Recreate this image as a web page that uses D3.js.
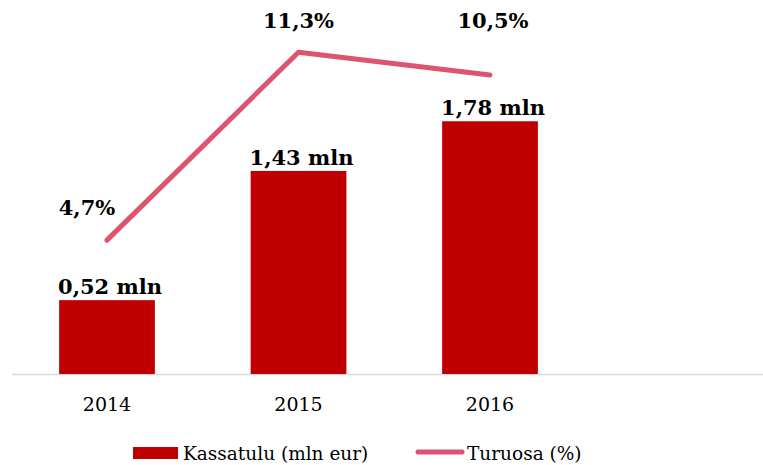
<!DOCTYPE html>
<meta charset="utf-8">
<script src="https://d3js.org/d3.v7.min.js"></script>
<style>
  body { margin: 0; background: #fff; }
  text { font-family: "DejaVu Serif", "Liberation Serif", serif; }
</style>
<div id="my_dataviz"></div>
<script>

// data
var years = ["2014", "2015", "2016", ""];
var revenue = [0.52, 1.43, 1.78];          // Kassatulu (mln eur)
var share = [4.7, 11.3, 10.5];             // Turuosa (%)
var revenueLabels = ["0,52 mln", "1,43 mln", "1,78 mln"];
var shareLabels = ["4,7%", "11,3%", "10,5%"];
var legendNames = ["Kassatulu (mln eur)", "Turuosa (%)"];

var W = 763, H = 465;
var baseY = 374;

var svg = d3.select("#my_dataviz")
  .append("svg")
    .attr("width", W)
    .attr("height", H);

// x: four slots, the last one empty
var x = d3.scaleBand()
  .domain(years)
  .range([11.25, 777.25])
  .paddingInner(0.5)
  .paddingOuter(0.25);

var y = d3.scaleLinear().domain([0, 2.5]).range([baseY, 19]);
var y2 = d3.scaleLinear().domain([0, 12.5]).range([baseY, 18]);

// axis line
svg.append("line")
  .attr("x1", 12).attr("x2", W)
  .attr("y1", baseY + 0.5).attr("y2", baseY + 0.5)
  .attr("stroke", "#d9d9d9")
  .attr("stroke-width", 1.5);

// year labels
var xAxis = svg.append("g")
  .attr("transform", "translate(0," + baseY + ")")
  .call(d3.axisBottom(x).tickSize(0).tickPadding(24));
xAxis.select(".domain").remove();
xAxis.selectAll("text")
  .style("font-family", "'DejaVu Serif', serif")
  .style("font-size", "19px")
  .attr("fill", "#000");

// bars
svg.selectAll(".bar")
  .data(revenue)
  .enter().append("rect")
    .attr("class", "bar")
    .attr("x", function(d, i) { return x(years[i]); })
    .attr("width", x.bandwidth())
    .attr("y", function(d) { return y(d); })
    .attr("height", function(d) { return baseY - y(d); })
    .attr("fill", "#c00000");

// bar labels
svg.selectAll(".blabel")
  .data(revenue)
  .enter().append("text")
    .attr("class", "blabel")
    .attr("x", function(d, i) { return x(years[i]) + x.bandwidth() / 2 + 3; })
    .attr("y", function(d) { return y(d) - 6; })
    .attr("text-anchor", "middle")
    .style("font-size", "21px")
    .style("font-weight", "bold")
    .text(function(d, i) { return revenueLabels[i]; });

// line
var line = d3.line()
  .x(function(d, i) { return x(years[i]) + x.bandwidth() / 2; })
  .y(function(d) { return y2(d); });

svg.append("path")
  .datum(share)
  .attr("fill", "none")
  .attr("stroke", "#dc5470")
  .attr("stroke-width", 5)
  .attr("stroke-linecap", "round")
  .attr("stroke-linejoin", "round")
  .attr("d", line);

// share labels (Excel placed them by hand)
var labelShift = [[-20, -25], [0, -24], [3, -47]];
svg.selectAll(".slabel")
  .data(share)
  .enter().append("text")
    .attr("class", "slabel")
    .attr("x", function(d, i) { return x(years[i]) + x.bandwidth() / 2 + labelShift[i][0]; })
    .attr("y", function(d, i) { return y2(d) + labelShift[i][1]; })
    .attr("text-anchor", "middle")
    .style("font-size", "21px")
    .style("font-weight", "bold")
    .text(function(d, i) { return shareLabels[i]; });

// legend
var lg = svg.append("g");
lg.append("rect")
  .attr("x", 133).attr("y", 447)
  .attr("width", 45).attr("height", 12)
  .attr("fill", "#c00000");
lg.append("text")
  .attr("x", 183).attr("y", 460)
  .style("font-size", "18.5px")
  .text(legendNames[0]);
lg.append("line")
  .attr("x1", 418).attr("x2", 462)
  .attr("y1", 452).attr("y2", 452)
  .attr("stroke", "#dc5470")
  .attr("stroke-width", 5)
  .attr("stroke-linecap", "round");
lg.append("text")
  .attr("x", 467).attr("y", 460)
  .style("font-size", "18.5px")
  .text(legendNames[1]);

</script>
